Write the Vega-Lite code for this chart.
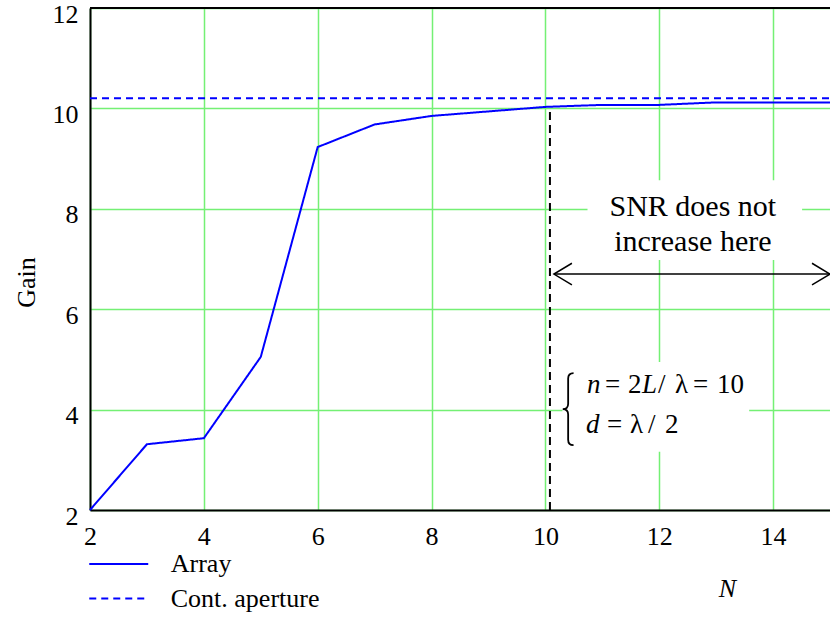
{
  "$schema": "https://vega.github.io/schema/vega-lite/v6.json",
  "width": 740,
  "height": 502,
  "autosize": {"type": "none"},
  "padding": {"left": 90, "top": 8, "right": 0, "bottom": 109},
  "background": "white",
  "config": {
    "view": {"stroke": null},
    "font": "Liberation Serif",
    "axis": {
      "grid": true,
      "gridColor": "#74f074",
      "gridWidth": 1.5,
      "ticks": false,
      "domainColor": "black",
      "domainWidth": 2,
      "labelFont": "Liberation Serif",
      "labelFontSize": 26,
      "labelColor": "black",
      "labelFlush": false,
      "labelOverlap": false,
      "titleFont": "Liberation Serif",
      "titleFontSize": 26,
      "titleFontWeight": "normal",
      "titleColor": "black"
    }
  },
  "datasets": {
    "curves": [
      {"N": 2, "Gain": 2.0, "series": "Array"},
      {"N": 3, "Gain": 3.31, "series": "Array"},
      {"N": 4, "Gain": 3.43, "series": "Array"},
      {"N": 5, "Gain": 5.05, "series": "Array"},
      {"N": 6, "Gain": 9.23, "series": "Array"},
      {"N": 7, "Gain": 9.68, "series": "Array"},
      {"N": 8, "Gain": 9.85, "series": "Array"},
      {"N": 9, "Gain": 9.94, "series": "Array"},
      {"N": 10, "Gain": 10.03, "series": "Array"},
      {"N": 11, "Gain": 10.07, "series": "Array"},
      {"N": 12, "Gain": 10.07, "series": "Array"},
      {"N": 13, "Gain": 10.12, "series": "Array"},
      {"N": 14, "Gain": 10.12, "series": "Array"},
      {"N": 15, "Gain": 10.12, "series": "Array"},
      {"N": 2, "Gain": 10.2, "series": "Cont. aperture"},
      {"N": 15, "Gain": 10.2, "series": "Cont. aperture"}
    ],
    "boxes": [
      {"N": 10.74, "N2": 14.51, "Gain": 6.98, "Gain2": 8.57},
      {"N": 10.30, "N2": 13.58, "Gain": 3.16, "Gain2": 4.95}
    ],
    "vline": [{"N": 10.08, "Gain": 2, "Gain2": 10.03}],
    "border": [{"Gain": 12}],
    "arrow": [{"N": 10.15, "N2": 15, "Gain": 6.7}],
    "heads": [
      {"N": 10.15, "Gain": 6.7, "dir": "L"},
      {"N": 15, "Gain": 6.7, "dir": "R"}
    ],
    "brace": [{"N": 10.4, "Gain": 4.01}],
    "snr": [
      {"N": 12.59, "Gain": 8.04, "t": "SNR does not"},
      {"N": 12.59, "Gain": 7.34, "t": "increase here"}
    ],
    "mathUp": [
      {"N": 11.048, "Gain": 4.49, "t": "="},
      {"N": 11.452, "Gain": 4.49, "t": "2"},
      {"N": 11.979, "Gain": 4.49, "t": "/"},
      {"N": 12.278, "Gain": 4.49, "t": "λ"},
      {"N": 12.594, "Gain": 4.49, "t": "="},
      {"N": 13.015, "Gain": 4.49, "t": "10"},
      {"N": 11.083, "Gain": 3.69, "t": "="},
      {"N": 11.487, "Gain": 3.69, "t": "λ"},
      {"N": 11.803, "Gain": 3.69, "t": "/"},
      {"N": 12.101, "Gain": 3.69, "t": "2"}
    ],
    "mathIt": [
      {"N": 10.732, "Gain": 4.49, "t": "n"},
      {"N": 11.698, "Gain": 4.49, "t": "L"},
      {"N": 10.714, "Gain": 3.69, "t": "d"}
    ]
  },
  "layer": [
    {
      "data": {"name": "boxes"},
      "mark": {"type": "rect", "color": "white"},
      "encoding": {
        "x": {"field": "N", "type": "quantitative"},
        "x2": {"field": "N2"},
        "y": {"field": "Gain", "type": "quantitative"},
        "y2": {"field": "Gain2"}
      }
    },
    {
      "data": {"name": "curves"},
      "mark": {"type": "line", "stroke": "#0000ff", "strokeWidth": 2},
      "encoding": {
        "x": {
          "field": "N", "type": "quantitative",
          "scale": {"domain": [2, 15], "nice": false, "zero": false},
          "axis": {
            "values": [2, 4, 6, 8, 10, 12, 14],
            "format": "d",
            "labelPadding": 13,
            "title": "N",
            "titleFontStyle": "italic",
            "titleX": 637,
            "titleY": 86,
            "titleAlign": "center",
            "titleBaseline": "alphabetic"
          }
        },
        "y": {
          "field": "Gain", "type": "quantitative",
          "scale": {"domain": [2, 12], "nice": false, "zero": false},
          "axis": {
            "values": [2, 4, 6, 8, 10, 12],
            "format": "d",
            "labelPadding": 12,
            "labelOffset": 6,
            "title": "Gain",
            "titleX": -56,
            "titleY": 274,
            "titleAngle": -90,
            "titleAlign": "center",
            "titleBaseline": "alphabetic"
          }
        },
        "strokeDash": {
          "field": "series", "type": "nominal",
          "scale": {"domain": ["Array", "Cont. aperture"], "range": [[1, 0], [7, 5]]},
          "legend": {
            "orient": "none",
            "legendX": 12.75,
            "legendY": 540,
            "title": null,
            "padding": 0,
            "symbolType": "M-2,0L2,0",
            "symbolSize": 870,
            "symbolStrokeWidth": 2,
            "symbolStrokeColor": "#0000ff",
            "symbolFillColor": "transparent",
            "labelFont": "Liberation Serif",
            "labelFontSize": 26,
            "labelColor": "black",
            "labelOffset": 36,
            "labelLimit": 400,
            "rowPadding": 5.5
          }
        }
      }
    },
    {
      "data": {"name": "vline"},
      "mark": {"type": "rule", "color": "black", "strokeWidth": 2, "strokeDash": [8, 5]},
      "encoding": {
        "x": {"field": "N", "type": "quantitative"},
        "y": {"field": "Gain", "type": "quantitative"},
        "y2": {"field": "Gain2"}
      }
    },
    {
      "data": {"name": "border"},
      "mark": {"type": "rule", "color": "black", "strokeWidth": 2},
      "encoding": {
        "y": {"field": "Gain", "type": "quantitative"}
      }
    },
    {
      "data": {"name": "arrow"},
      "mark": {"type": "rule", "color": "black", "strokeWidth": 1.5},
      "encoding": {
        "x": {"field": "N", "type": "quantitative"},
        "x2": {"field": "N2"},
        "y": {"field": "Gain", "type": "quantitative"}
      }
    },
    {
      "data": {"name": "heads"},
      "mark": {"type": "point", "filled": false, "stroke": "black", "strokeWidth": 1.5, "size": 1296, "opacity": 1},
      "encoding": {
        "x": {"field": "N", "type": "quantitative"},
        "y": {"field": "Gain", "type": "quantitative"},
        "shape": {
          "field": "dir", "type": "nominal",
          "scale": {"domain": ["L", "R"], "range": ["M1,-0.6L0,0L1,0.6", "M-1,-0.6L0,0L-1,0.6"]},
          "legend": null
        }
      }
    },
    {
      "data": {"name": "brace"},
      "mark": {"type": "point", "filled": false, "stroke": "black", "strokeWidth": 1.8, "size": 5184, "opacity": 1,
        "shape": "M0.15,-1Q0,-1 0,-0.85L0,-0.15Q0,0 -0.15,0Q0,0 0,0.15L0,0.85Q0,1 0.15,1"},
      "encoding": {
        "x": {"field": "N", "type": "quantitative"},
        "y": {"field": "Gain", "type": "quantitative"}
      }
    },
    {
      "data": {"name": "snr"},
      "mark": {"type": "text", "font": "Liberation Serif", "fontSize": 30, "align": "center", "baseline": "middle", "color": "black"},
      "encoding": {
        "x": {"field": "N", "type": "quantitative"},
        "y": {"field": "Gain", "type": "quantitative"},
        "text": {"field": "t"}
      }
    },
    {
      "data": {"name": "mathUp"},
      "mark": {"type": "text", "font": "Liberation Serif", "fontSize": 27, "align": "left", "baseline": "middle", "color": "black"},
      "encoding": {
        "x": {"field": "N", "type": "quantitative"},
        "y": {"field": "Gain", "type": "quantitative"},
        "text": {"field": "t"}
      }
    },
    {
      "data": {"name": "mathIt"},
      "mark": {"type": "text", "font": "Liberation Serif", "fontSize": 27, "fontStyle": "italic", "align": "left", "baseline": "middle", "color": "black"},
      "encoding": {
        "x": {"field": "N", "type": "quantitative"},
        "y": {"field": "Gain", "type": "quantitative"},
        "text": {"field": "t"}
      }
    }
  ]
}
